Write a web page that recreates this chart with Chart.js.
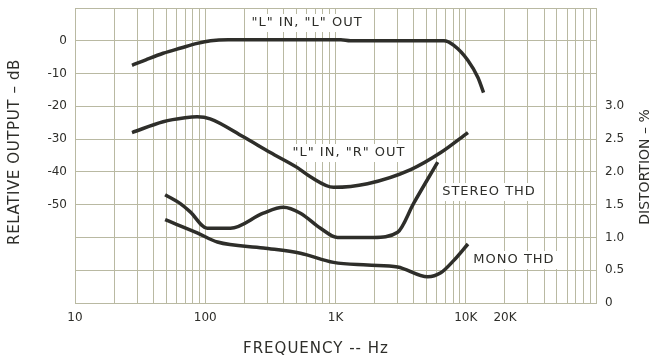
<!DOCTYPE html>
<html>
<head>
<meta charset="utf-8">
<script src="https://cdn.jsdelivr.net/npm/chart.js@4.4.1/dist/chart.umd.min.js"></script>
<style>
  body { margin: 0; background: #fff; }
  canvas { display: block; }
</style>
</head>
<body>
<canvas id="chart" width="658" height="360"></canvas>
<script>
// "L" in, "L" out response (dB)
const llFreq = [27.4, 35, 47.5, 65, 86.7, 110, 150, 1100, 1300, 6800, 8100, 10400, 12400, 13700];
const llDb   = [-7.5, -5.8, -3.8, -2.2, -0.8, 0, 0.3, 0.3, 0, 0, -1.4, -6, -11.2, -15.8];

// "L" in, "R" out crosstalk (dB)
const lrFreq = [27.4, 47.5, 70, 86.7, 109, 196, 316, 510, 642, 966, 1760, 3780, 6430, 10400];
const lrDb   = [-28, -24.7, -23.5, -23.2, -23.8, -29.3, -34.1, -38.7, -41.5, -44.7, -43.6, -39.3, -34.1, -28];

// stereo THD (%)
const stFreq = [49.2, 64, 76.7, 103.5, 156, 279, 398, 538, 767, 1036, 1960, 3000, 3980, 6090];
const stThd  = [1.65, 1.52, 1.39, 1.14, 1.14, 1.37, 1.46, 1.37, 1.14, 1.0, 1.0, 1.08, 1.52, 2.15];

// mono THD (%)
const moFreq = [49.2, 86.7, 124, 279, 538, 966, 1760, 3000, 5100, 6430, 8100, 10400];
const moThd  = [1.27, 1.07, 0.93, 0.84, 0.76, 0.62, 0.58, 0.55, 0.40, 0.46, 0.65, 0.9];

// axis labels
const freqTicks = [10, 100, 1000, 10000, 20000];
const freqTickText = ['10', '100', '1K', '10K', '20K'];
const dbLabels = [0, -10, -20, -30, -40, -50];
const thdLabels = [0, 0.5, 1.0, 1.5, 2.0, 2.5, 3.0];

const ink = '#2e2e2a';
const gridColor = '#b9b9a2';
const tickFont = { family: 'DejaVu Sans', size: 12 };

function pts(xs, ys) {
    return xs.map((x, i) => ({ x: x, y: ys[i] }));
}

// text placed on the plot, with a white patch behind it
const curveNotes = [
    { text: '"L" IN, "L" OUT', x: 307, y: 23 },
    { text: '"L" IN, "R" OUT', x: 349, y: 153 },
    { text: 'STEREO THD', x: 489, y: 192 },
    { text: 'MONO THD', x: 514, y: 260 }
];

const notesPlugin = {
    id: 'notes',
    beforeDatasetsDraw(chart) {
        const ctx = chart.ctx;
        ctx.save();
        ctx.font = '13px "DejaVu Sans"';
        ctx.letterSpacing = '1px';
        ctx.textAlign = 'center';
        ctx.textBaseline = 'middle';
        curveNotes.forEach(n => {
            const w = ctx.measureText(n.text).width;
            ctx.fillStyle = '#fff';
            ctx.fillRect(n.x - w / 2 - 5, n.y - 9, w + 10, 18);
            ctx.fillStyle = ink;
            ctx.fillText(n.text, n.x, n.y);
        });
        ctx.restore();
    },
    afterDraw(chart) {
        const ctx = chart.ctx;
        ctx.save();
        ctx.fillStyle = ink;
        ctx.textAlign = 'center';
        ctx.textBaseline = 'middle';

        ctx.font = '15px "DejaVu Sans"';
        ctx.letterSpacing = '1px';
        ctx.fillText('FREQUENCY -- Hz', 316, 349);

        ctx.letterSpacing = '0.6px';
        ctx.translate(15, 152);
        ctx.rotate(-Math.PI / 2);
        ctx.fillText('RELATIVE OUTPUT – dB', 0, 0);
        ctx.restore();

        ctx.save();
        ctx.fillStyle = ink;
        ctx.textAlign = 'center';
        ctx.textBaseline = 'middle';
        ctx.font = '14px "DejaVu Sans"';
        ctx.translate(645, 167);
        ctx.rotate(-Math.PI / 2);
        ctx.fillText('DISTORTION – %', 0, 0);
        ctx.restore();
    }
};

function curve(data, axis) {
    return {
        data: data,
        yAxisID: axis,
        borderColor: ink,
        borderWidth: 3.5,
        pointRadius: 0,
        fill: false,
        cubicInterpolationMode: 'monotone'
    };
}

// no extra room for the blank end labels
function fixPadding(scale) {
    scale.paddingTop = 0;
    scale.paddingBottom = 0;
}

const ctx = document.getElementById('chart').getContext('2d');
const chart = new Chart(ctx, {
    type: 'line',
    data: {
        datasets: [
            curve(pts(llFreq, llDb), 'y'),
            curve(pts(lrFreq, lrDb), 'y'),
            curve(pts(stFreq, stThd), 'y2'),
            curve(pts(moFreq, moThd), 'y2')
        ]
    },
    options: {
        responsive: false,
        animation: false,
        layout: { padding: { top: 8 } },
        plugins: {
            legend: { display: false },
            tooltip: { enabled: false }
        },
        scales: {
            x: {
                type: 'logarithmic',
                min: 10,
                max: 100000,
                afterBuildTicks: (scale) => {
                    // full log grid: 1..9 in every decade
                    const ticks = [];
                    for (let dec = 10; dec < 100000; dec *= 10) {
                        for (let m = 1; m < 10; m++) ticks.push({ value: dec * m });
                    }
                    ticks.push({ value: 100000 });
                    scale.ticks = ticks;
                },
                afterFit: (scale) => {
                    scale.height = 57;
                    scale.paddingLeft = 0;
                    scale.paddingRight = 0;
                },
                grid: { color: gridColor, drawTicks: false },
                border: { color: gridColor },
                ticks: {
                    autoSkip: false,
                    maxRotation: 0,
                    padding: 8,
                    color: ink,
                    font: tickFont,
                    callback: (v) => {
                        const i = freqTicks.indexOf(v);
                        return i < 0 ? '' : freqTickText[i];
                    }
                }
            },
            y: {
                min: -80,
                max: 10,
                afterFit: (scale) => {
                    scale.width = 75;
                    fixPadding(scale);
                },
                grid: { color: gridColor, drawTicks: false },
                border: { color: gridColor },
                ticks: {
                    stepSize: 10,
                    padding: 8,
                    color: ink,
                    font: tickFont,
                    callback: (v) => dbLabels.includes(v) ? String(v) : ''
                }
            },
            y2: {
                position: 'right',
                min: 0,
                max: 4.5,
                afterFit: (scale) => {
                    scale.width = 62;
                    fixPadding(scale);
                },
                grid: { display: false, drawTicks: false },
                border: { display: false },
                ticks: {
                    stepSize: 0.5,
                    padding: 9,
                    color: ink,
                    font: tickFont,
                    callback: (v) => thdLabels.includes(v) ? (v === 0 ? '0' : v.toFixed(1)) : ''
                }
            }
        }
    },
    plugins: [notesPlugin]
});
</script>
</body>
</html>
